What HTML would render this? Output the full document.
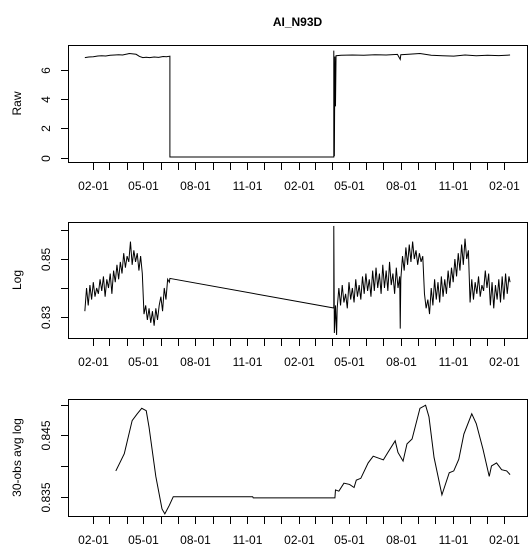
<!DOCTYPE html>
<html><head><meta charset="utf-8">
<style>
html,body{margin:0;padding:0;background:#fff;}
svg{display:block;font-family:"Liberation Sans",Arial,sans-serif;}
</style></head>
<body>
<svg id="chart" width="529" height="547" viewBox="0 0 529 547" xmlns="http://www.w3.org/2000/svg">
<rect x="0" y="0" width="529" height="547" fill="#fff"/>
<text x="297.5" y="26" font-size="12" font-weight="bold" text-anchor="middle">AI_N93D</text>
</svg>
<script>
// ---- data ----
const monthDays = [0,28,59,89,120,150,181,212,242,273,303,334,365,393,424,454,485,515,546,577,607,638,668,699,730];
const monthLabels = ["02-01","","","05-01","","","08-01","","","11-01","","","02-01","","","05-01","","","08-01","","","11-01","","","02-01"];

const rawDays = [-15,-8,0,8,15,22,30,38,45,52,58,64,70,76,82,88,94,100,108,116,124,130,136,136,300,427,427,428,429,430,431,440,460,480,500,520,540,545,546,560,580,600,620,640,660,680,700,720,740];
const rawVals = [6.82,6.86,6.88,6.93,6.95,6.93,6.98,7.0,7.02,7.0,7.05,7.1,7.08,7.05,6.9,6.82,6.85,6.82,6.86,6.84,6.9,6.88,6.92,0.05,0.05,0.05,7.3,0.1,6.9,3.5,6.95,6.98,7.0,6.98,7.02,7.0,7.04,6.7,7.02,7.05,7.1,6.98,6.95,6.92,7.0,6.95,6.98,6.96,7.0];
const rawTicks = [0,2,4,6];

const logDays = [-15,-12,-9,-6,-3,0,3,6,9,12,15,18,21,24,27,30,33,36,39,42,45,48,51,54,57,60,63,66,69,72,75,78,81,84,87,90,93,96,99,102,105,108,111,114,117,120,123,126,129,132,135,136,
427,427,428,430,432,
433,436,439,442,445,448,451,454,457,460,463,466,469,472,475,478,481,484,487,490,493,496,499,502,505,508,511,514,517,520,523,526,529,532,535,538,541,544,545,546,549,552,555,558,561,564,567,570,573,576,579,582,585,588,591,594,597,600,603,606,609,612,615,618,621,624,627,630,633,636,639,642,645,648,651,654,657,660,663,666,669,672,675,678,681,684,687,690,693,696,699,702,705,708,711,714,717,720,723,726,729,732,735,738,740];
const logVals = [.832,.840,.834,.841,.836,.842,.837,.840,.838,.843,.839,.844,.837,.843,.840,.845,.838,.846,.842,.848,.843,.849,.845,.852,.847,.851,.849,.856,.848,.853,.849,.852,.846,.851,.845,.831,.834,.829,.833,.828,.832,.827,.833,.829,.834,.837,.832,.840,.836,.843,.842,.8433,
.8331,.8614,.8245,.834,.8238,
.833,.840,.834,.841,.835,.838,.833,.842,.836,.840,.835,.843,.837,.841,.836,.844,.838,.845,.839,.843,.837,.846,.839,.847,.840,.845,.838,.848,.840,.846,.839,.849,.841,.845,.838,.847,.840,.844,.826,.843,.851,.846,.854,.848,.855,.849,.856,.850,.853,.848,.852,.849,.851,.838,.833,.836,.831,.840,.834,.843,.836,.842,.835,.844,.837,.843,.838,.846,.840,.847,.842,.850,.844,.852,.846,.855,.848,.857,.850,.853,.835,.843,.836,.842,.838,.844,.837,.841,.839,.846,.840,.845,.834,.842,.833,.841,.836,.843,.835,.844,.836,.845,.838,.844,.842];
const logTicks = [0.83,0.84,0.85,0.86];
const logTickLabels = ["0.83","","0.85",""];

const avgDays = [40,47,55,69,78,86,94,99,111,122,127,135,142,283,284,429,430,436,445,455,463,467,475,488,497,515,523,536,541,550,557,566,580,590,596,605,619,632,640,649,658,672,680,692,703,707,716,725,734,740];
const avgVals = [.8392,.8405,.842,.8474,.8485,.8494,.849,.8463,.8383,.833,.8322,.8336,.835,.835,.8348,.8348,.8361,.8359,.8372,.837,.8365,.8377,.838,.8405,.8416,.841,.8422,.8441,.8422,.8408,.8436,.8444,.8494,.8499,.848,.8414,.8353,.8389,.8392,.8411,.8452,.8485,.8469,.8427,.8383,.84,.8405,.8394,.8392,.8386];
const avgTicks = [0.835,0.84,0.845,0.85];
const avgTickLabels = ["0.835","","0.845",""];

// ---- layout ----
const NS = "http://www.w3.org/2000/svg";
const svg = document.getElementById('chart');
const X0 = 68, X1 = 527;
const xScale = d => 93.3 + d * 0.5632;

function mk(tag, attrs, parent) {
  const e = document.createElementNS(NS, tag);
  for (const k in attrs) e.setAttribute(k, attrs[k]);
  (parent || svg).appendChild(e);
  return e;
}

const panels = [
  {name:'raw', top:45, bottom:162, yfn: v => 157.7 - v * 14.67, ticks: rawTicks, tlabels: rawTicks.map(String), title:'Raw', days: rawDays, vals: rawVals},
  {name:'log', top:222, bottom:338, yfn: v => 317 - (v - 0.83) * 2900, ticks: logTicks, tlabels: logTickLabels, title:'Log', days: logDays, vals: logVals},
  {name:'avg', top:399, bottom:516, yfn: v => 496.7 - (v - 0.835) * 6140, ticks: avgTicks, tlabels: avgTickLabels, title:'30-obs avg log', days: avgDays, vals: avgVals}
];

panels.forEach(p => {
  const g = mk('g', {});
  
  

  const box = mk('rect', {x:X0+0.5, y:p.top+0.5, width:X1-X0, height:p.bottom-p.top, fill:'none', stroke:'#000', 'stroke-width':1}, g);
  
  

  // series
  const pts = p.days.map((d, i) => xScale(d).toFixed(2) + ',' + p.yfn(p.vals[i]).toFixed(2)).join(' ');
  const line = mk('polyline', {points: pts, fill:'none', stroke:'#000', 'stroke-width':1, 'stroke-linejoin':'miter'}, g);
  
  

  // y ticks
  p.ticks.forEach((t, i) => {
    const y = Math.round(p.yfn(t)) + 0.5;
    const tk = mk('line', {x1:61, x2:X0, y1:y, y2:y, stroke:'#000'}, g);
    
    
    if (p.tlabels[i]) {
      const tx = mk('text', {x:0, y:0, 'font-size':12, 'text-anchor':'middle', transform:`translate(50,${y}) rotate(-90)`}, g);
      tx.textContent = p.tlabels[i];
      
      
    }
  });

  // x ticks
  monthDays.forEach((d, i) => {
    const x = Math.round(xScale(d)) + 0.5;
    const tk = mk('line', {x1:x, x2:x, y1:p.bottom+1, y2:p.bottom+8, stroke:'#000'}, g);
    
    
    if (monthLabels[i]) {
      const tx = mk('text', {x:x, y:p.bottom+28, 'font-size':12, 'text-anchor':'middle'}, g);
      tx.textContent = monthLabels[i];
      
      
    }
  });

  // y title
  const cy = (p.top + p.bottom) / 2;
  const yt = mk('text', {x:0, y:0, 'font-size':12, 'text-anchor':'middle', transform:`translate(21,${cy}) rotate(-90)`}, g);
  yt.textContent = p.title;
  
  
});
</script>
</body></html>
